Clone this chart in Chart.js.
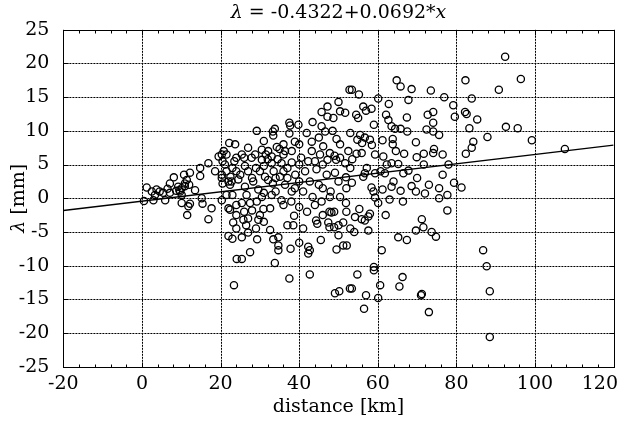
<!DOCTYPE html>
<html><head><meta charset="utf-8">
<script src="https://cdn.jsdelivr.net/npm/chart.js@4"></script>
<style>html,body{margin:0;padding:0;background:#fff}#wrap{width:630px;height:421px;position:relative}</style>
</head><body><div id="wrap"><canvas id="c" width="630" height="421"></canvas></div>
<script>
// data points (distance [km], lambda [mm])
const distX = [
92.4,96.4,90.8,82.3,83.9,82.2,82.6,85.3,83.3,92.6,95.6,84.3,87.9,99.2,83.9,107.6,82.4,81.3,86.8,87.7,88.5,88.5,
64.8,65.8,68.6,73.5,53.4,55.2,60.1,67.8,76.9,62.8,79.2,56.3,58.4,57.0,54.5,55.0,62.1,62.7,67.4,72.7,74.1,74.1,79.6,59.0,63.5,64.4,65.8,67.5,72.4,74.1,75.6,55.5,56.7,58.0,54.8,56.0,58.5,61.2,63.8,63.8,69.7,74.3,
52.8,50.0,47.2,45.7,50.4,51.7,47.2,48.7,43.4,45.7,37.5,39.8,37.7,33.8,33.3,29.2,48.5,46.6,37.5,33.4,41.9,43.2,46.1,49.5,50.4,38.9,36.0,30.5,34.3,35.0,
22.2,23.7,
20.3,21.5,21.1,16.9,14.8,14.8,18.6,12.2,10.7,11.4,8.1,7.1,9.2,10.1,1.2,2.5,3.7,3.3,5.4,5.9,0.5,2.9,7.1,8.7,9.7,10.1,10.9,10.1,12.2,11.8,11.5,15.2,15.4,17.7,16.9,20.3,22.0,22.4,20.5,22.0,22.8,22.4,21.5,23.2,22.0,24.1,20.8,20.3,20.3,10.9,9.5,12.0,13.5,19.5,4.5,6.5,
23.4,37.5,42.7,49.1,50.2,52.9,
59.0,54.8,53.4,57.0,56.5,60.6,60.1,65.5,66.3,71.2,71.0,73.0,
61.0,59.0,65.2,67.4,69.7,71.2,71.6,73.7,74.8,57.6,77.7,55.3,54.2,55.9,56.7,57.6,58.0,60.1,59.3,58.9,58.4,61.2,63.5,65.8,66.4,68.6,69.7,72.0,75.6,75.6,77.7,76.5,79.4,53.4,56.3,56.7,57.2,59.3,60.7,61.8,62.3,61.4,63.5,65.2,64.6,66.7,66.5,67.8,69.9,71.7,71.7,74.1,76.5,54.6,55.9,59.3,
38.7,40.0,37.8,42.3,42.7,45.5,49.5,51.2,44.3,44.6,47.4,47.7,50.0,51.2,48.9,47.7,48.2,48.9,43.4,45.7,47.8,50.4,51.9,35.5,38.1,40.0,38.9,42.7,41.5,44.4,47.0,49.1,50.0,51.9,47.2,49.4,51.7,42.3,38.1,35.5,33.0,30.5,27.9,26.2,30.0,31.3,32.1,33.3,35.1,36.0,36.4,28.3,26.2,26.6,29.6,30.5,29.2,25.4,27.5,30.9,30.0,32.6,29.6,25.8,27.0,25.4,27.0,29.3,32.6,33.4,34.7,34.7,34.7,25.4,27.5,33.8,42.3,52.1,36.0,36.4,32.1,28.8,25.4,38.1,43.2,47.8,45.3,50.4,52.5,
24.0,24.5,25.0,27.0,28.0,29.0,31.0,32.0,33.5,34.0,34.5,37.0,37.0,23.5,24.0,26.0,31.5,33.0,39.0,40.0,40.5,41.0,45.0,46.0,44.0,46.0,48.0,52.0,53.0,53.5,20.5,23.0,22.5,21.5,34.0,33.0,31.0,28.0,26.0,24.0,23.0,24.0,26.5,29.0,31.0,36.0,38.0,40.0,42.0,44.0,46.0,52.0,53.0,54.0,50.0,41.0,37.0,23.0,24.0,38.5,62.0,63.0,64.0,70.0,73.0,78.0,40.0,31.0,27.0,45.0,49.0,53.0
];
const lambdaY = [
21.0,17.7,16.1,17.5,14.8,12.8,12.5,11.7,10.4,10.6,10.4,8.4,9.1,8.6,7.5,7.3,6.6,1.6,-7.7,-10.1,-13.8,-20.6,
17.5,16.6,16.2,16.0,16.1,15.4,14.8,14.6,15.0,14.0,13.8,13.6,13.3,13.0,12.4,11.9,12.4,11.6,12.0,12.4,12.8,11.2,12.1,10.9,10.7,10.3,10.3,9.9,10.2,9.9,9.4,9.4,9.0,8.7,8.7,8.2,7.9,8.6,8.8,8.0,8.3,7.3,
16.1,14.3,13.6,12.8,12.9,12.7,12.1,11.9,11.3,10.7,11.2,10.9,10.8,10.3,9.9,10.0,10.0,9.9,9.6,9.3,9.7,8.4,7.7,8.8,8.0,8.4,8.0,7.2,7.6,7.3,
8.2,8.0,
6.5,6.5,5.0,5.2,4.5,3.3,4.0,3.8,3.5,2.7,3.1,2.2,1.7,1.5,1.6,1.0,1.3,0.5,0.8,-0.3,-0.4,-0.3,0.8,1.1,1.0,0.5,1.8,-0.7,-0.8,-1.2,-2.5,0.0,-0.8,-1.5,-3.1,-0.3,-1.5,-1.7,2.2,2.5,2.5,2.0,0.5,-3.6,-5.6,-9.0,7.0,3.5,3.0,2.2,1.2,2.0,1.2,6.2,1.0,1.4,
-12.9,-11.9,-11.3,-14.1,-13.8,-13.4,
-10.7,-11.3,-13.4,-14.4,-16.4,-12.9,-14.8,-13.1,-11.7,-14.2,-14.4,-16.9,
-7.7,-10.2,-5.8,-6.2,-4.8,-3.1,-4.3,-5.0,-5.7,-4.8,-1.8,-1.6,-2.8,-3.1,-3.3,-2.7,-2.3,-0.7,0.1,1.0,1.6,1.3,1.7,1.1,-0.5,1.8,1.0,0.7,1.5,0.0,0.5,3.5,2.3,2.3,3.2,3.7,4.5,3.7,4.0,3.7,5.0,6.2,5.2,5.1,7.0,6.6,3.7,4.1,6.1,6.6,5.0,6.7,6.5,6.6,6.7,6.5,
-2.6,-6.6,-7.5,-7.2,-7.7,-6.2,-7.6,-7.0,-3.3,-3.8,-3.6,-4.3,-4.0,-3.6,-4.3,-2.0,-2.1,-2.0,0.2,-0.5,0.2,0.2,-0.7,-0.3,1.0,2.5,1.5,2.5,4.0,4.3,3.5,3.8,2.5,3.1,5.7,5.7,5.2,5.5,5.3,5.2,5.2,5.7,6.0,4.8,4.0,3.2,2.7,2.2,3.2,4.0,2.0,2.5,1.7,0.5,1.3,0.2,-0.5,-0.7,-0.7,-1.6,-2.5,-1.5,-3.2,-3.2,-3.0,-5.8,-5.1,-6.1,-4.7,-6.1,-5.8,-7.0,-7.7,-9.0,-8.0,-9.6,-8.2,-7.0,6.5,7.0,7.0,6.5,6.5,7.0,7.0,6.7,6.5,6.0,7.0,
4.0,2.8,3.5,4.0,3.0,4.5,4.8,5.8,4.0,3.0,5.8,4.5,3.0,5.5,6.0,6.0,6.5,6.2,3.5,5.0,6.0,1.0,2.0,1.5,5.5,5.0,1.0,1.5,4.5,5.8,5.5,4.5,3.2,4.0,1.0,0.5,0.8,-1.8,-2.0,-1.0,0.5,-2.5,-4.0,-4.5,-3.5,-1.0,-0.5,-1.3,-2.0,-1.0,-2.5,-2.0,-4.5,-5.0,-5.5,-4.5,-4.0,-6.0,-4.5,-4.0,-2.5,-0.2,2.5,3.0,2.0,5.0,8.0,8.5,7.5,9.0,6.3,9.7
];
const xTicks = [-20, 0, 20, 40, 60, 80, 100, 120];
const yTicks = [-25, -20, -15, -10, -5, 0, 5, 10, 15, 20, 25];
// regression from title: lambda = -0.4322 + 0.0692*x
const fitIntercept = -0.4322, fitSlope = 0.0692;
const fitX = [-20, 120];

const points = distX.map((x, i) => ({x: x, y: lambdaY[i]}));
const fitPts = fitX.map(x => ({x: x, y: fitIntercept + fitSlope * x}));

const FONT = '"DejaVu Serif", "Liberation Serif", serif';
const FS = 19;
const CA = {left: 63.4, right: 613.6, top: 29.8, bottom: 366.7};

function drawPieces(ctx, pieces, size, cx, cy) {
  let total = 0;
  pieces.forEach(p => { ctx.font = (p[1] ? 'italic ' : '') + size + 'px ' + FONT; p.w = ctx.measureText(p[0]).width; total += p.w; });
  let x = cx - total / 2;
  ctx.textAlign = 'left'; ctx.textBaseline = 'middle';
  pieces.forEach(p => { ctx.font = (p[1] ? 'italic ' : '') + size + 'px ' + FONT; ctx.fillText(p[0], x, cy); x += p.w; });
}

const gridPlugin = {
  id: 'dotgrid',
  beforeDatasetsDraw(chart) {
    const ctx = chart.ctx, xs = chart.scales.x, ys = chart.scales.y, a = chart.chartArea;
    ctx.save();
    ctx.strokeStyle = '#000'; ctx.lineWidth = 1; ctx.setLineDash([2, 1]);
    ctx.beginPath();
    xTicks.forEach(v => { const p = Math.round(xs.getPixelForValue(v)) + 0.5; ctx.moveTo(p, a.top); ctx.lineTo(p, a.bottom); });
    yTicks.forEach(v => { const p = Math.round(ys.getPixelForValue(v)) + 0.5; ctx.moveTo(a.left, p); ctx.lineTo(a.right, p); });
    ctx.stroke();
    ctx.restore();
  }
};

const deco = {
  id: 'deco',
  afterDraw(chart) {
    const ctx = chart.ctx, xs = chart.scales.x, ys = chart.scales.y, a = chart.chartArea;
    ctx.save();
    ctx.strokeStyle = '#000'; ctx.lineWidth = 1; ctx.setLineDash([]);
    const L0 = Math.round(a.left) + 0.5, R0 = Math.round(a.right) + 0.5, T0 = Math.round(a.top) + 0.5, B0 = Math.round(a.bottom) + 0.5;
    ctx.strokeRect(L0, T0, R0 - L0, B0 - T0);
    ctx.beginPath();
    for (let v = xTicks[0]; v <= xTicks[xTicks.length - 1] + 1e-9; v += 4) {
      const px = Math.round(xs.getPixelForValue(v)) + 0.5;
      const major = xTicks.includes(Math.round(v));
      const L = major ? 5 : 3;
      ctx.moveTo(px, B0); ctx.lineTo(px, B0 - L);
      ctx.moveTo(px, T0); ctx.lineTo(px, T0 + L);
    }
    yTicks.forEach(v => {
      const py = Math.round(ys.getPixelForValue(v)) + 0.5;
      ctx.moveTo(L0, py); ctx.lineTo(L0 + 5, py);
      ctx.moveTo(R0, py); ctx.lineTo(R0 - 5, py);
    });
    ctx.stroke();
    ctx.fillStyle = '#000';
    ctx.font = FS + 'px ' + FONT; ctx.textBaseline = 'middle';
    xTicks.forEach(v => {
      const px = xs.getPixelForValue(v);
      const label = String(v);
      const w = ctx.measureText(label).width;
      let lx = px - w / 2;
      if (lx + w > chart.width - 12) lx = chart.width - 12 - w;
      ctx.textAlign = 'left';
      ctx.fillText(label, lx, a.bottom + 17);
    });
    drawPieces(ctx, [['distance [km]', false]], FS, (a.left + a.right) / 2, 407);
    drawPieces(ctx, [['λ', true], [' = -0.4322+0.0692*', false], ['x', true]], FS, (a.left + a.right) / 2, 13);
    ctx.translate(19, (a.top + a.bottom) / 2);
    ctx.rotate(-Math.PI / 2);
    drawPieces(ctx, [['λ', true], [' [mm]', false]], FS, 0, 0);
    ctx.restore();
  }
};

new Chart(document.getElementById('c'), {
  type: 'scatter',
  data: {
    datasets: [
      {label: 'data', data: points, showLine: false, pointStyle: 'circle', pointRadius: 3.6,
       pointBorderWidth: 1.3, pointBorderColor: '#000', pointBackgroundColor: 'rgba(0,0,0,0)', pointHoverRadius: 3.6},
      {label: 'fit', type: 'line', data: fitPts, showLine: true, borderColor: '#000', borderWidth: 1.3,
       pointRadius: 0, fill: false}
    ]
  },
  options: {
    responsive: false, animation: false, devicePixelRatio: 1,
    layout: {padding: {left: 0, right: 630 - CA.right, top: CA.top, bottom: 0}},
    plugins: {legend: {display: false}, tooltip: {enabled: false}, title: {display: false}},
    scales: {
      x: {type: 'linear', min: -20, max: 120,
          afterBuildTicks: s => { s.ticks = xTicks.map(v => ({value: v})); },
          afterFit: s => { s.height = 421 - CA.bottom; s.paddingLeft = 0; s.paddingRight = 0; },
          ticks: {display: false},
          grid: {display: false},
          border: {display: false}},
      y: {type: 'linear', min: -25, max: 25,
          afterBuildTicks: s => { s.ticks = yTicks.map(v => ({value: v})); },
          afterFit: s => { s.width = CA.left; s.paddingTop = 0; s.paddingBottom = 0; },
          ticks: {color: '#000', font: {family: FONT, size: FS}, padding: 6},
          grid: {display: false},
          border: {display: false}}
    }
  },
  plugins: [gridPlugin, deco]
});
</script></body></html>
